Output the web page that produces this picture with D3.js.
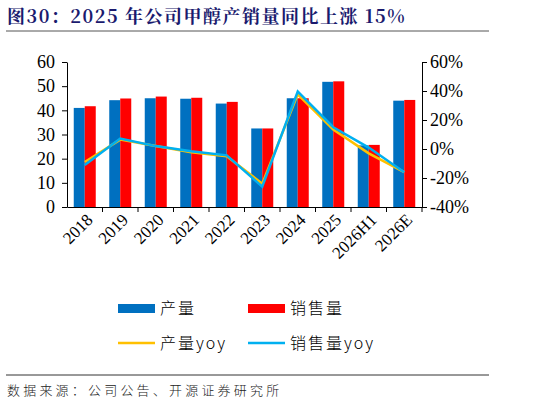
<!DOCTYPE html><html><head><meta charset="utf-8"><script src="https://cdn.jsdelivr.net/npm/d3@7"></script>
<style>body{margin:0;background:#fff}</style></head><body><svg id="c" width="551" height="405"></svg>
<script>
const categories=["2018","2019","2020","2021","2022","2023","2024","2025","2026H1","2026E"];
const production=[41,44.2,45,44.8,42.8,32.5,45,51.8,25.5,44];
const sales=[41.7,44.9,45.7,45.2,43.5,32.5,45,52,25.7,44.3];
const productionYoy=[-9,6.5,2,-2.3,-5,-24,37.7,13.4,-3,-16];
const salesYoy=[-11,7.2,2,-1.6,-4.4,-26,39.6,15,1,-16];
const leftTicks=[0,10,20,30,40,50,60];
const rightTicks=[-40,-20,0,20,40,60];
const svg=d3.select("#c");
const serif="'Liberation Serif','Times New Roman',serif";
const cjk="'Noto Sans CJK SC',sans-serif";
svg.append("text").attr("x",7).attr("y",23).attr("fill","#1a1a6e").attr("font-weight","bold").attr("font-size",18).attr("letter-spacing",1.5).attr("font-family","'Noto Serif CJK SC','Liberation Serif',serif").text("图30：2025 年公司甲醇产销量同比上涨 15%");
svg.append("line").attr("x1",6).attr("x2",489).attr("y1",31).attr("y2",31).attr("stroke","#555").attr("stroke-width",1);
svg.append("line").attr("x1",6).attr("x2",489).attr("y1",375).attr("y2",375).attr("stroke","#333").attr("stroke-width",1);
svg.append("text").attr("x",7).attr("y",395).attr("font-size",13).attr("letter-spacing",3.2).attr("font-family",cjk).attr("font-weight",300).attr("fill","#222").text("数据来源：公司公告、开源证券研究所");
const L=67,R=422,T=62,B=207;
const x=d3.scaleBand().domain(categories).range([L,R]);
const y=d3.scaleLinear().domain([0,60]).range([B,T]);
const y2=d3.scaleLinear().domain([-40,60]).range([B,T]);
const bw=11;
svg.selectAll(".b1").data(categories).join("rect").attr("x",d=>x(d)+x.bandwidth()/2-bw).attr("width",bw).attr("y",(d,i)=>y(production[i])).attr("height",(d,i)=>B-y(production[i])).attr("fill","#0070c0");
svg.selectAll(".b2").data(categories).join("rect").attr("x",d=>x(d)+x.bandwidth()/2).attr("width",bw).attr("y",(d,i)=>y(sales[i])).attr("height",(d,i)=>B-y(sales[i])).attr("fill","#ff0000");
const ln=d3.line().x((d,i)=>x(categories[i])+x.bandwidth()/2).y(d=>y2(d));
svg.append("path").attr("d",ln(productionYoy)).attr("fill","none").attr("stroke","#ffc000").attr("stroke-width",2.5);
svg.append("path").attr("d",ln(salesYoy)).attr("fill","none").attr("stroke","#00b0f0").attr("stroke-width",2.5);
const ax=svg.append("g").attr("transform",`translate(0,${B})`).call(d3.axisBottom(x).tickSize(5).tickSizeOuter(0).tickFormat(""));
ax.selectAll(".tick line").attr("transform",`translate(${x.bandwidth()/2},0)`);
categories.forEach(c=>{svg.append("text").attr("transform",`translate(${x(c)+x.bandwidth()/2+9},${B+14}) rotate(-45)`).attr("text-anchor","end").attr("font-family",serif).attr("font-size",17).text(c);});
const ay=svg.append("g").attr("transform",`translate(${L},0)`).call(d3.axisLeft(y).tickValues(leftTicks).tickSize(5).tickSizeOuter(0));
ay.selectAll("text").attr("font-family",serif).attr("font-size",18).attr("x",-12).attr("fill","#000");
const ay2=svg.append("g").attr("transform",`translate(${R},0)`).call(d3.axisRight(y2).tickValues(rightTicks).tickSize(5).tickSizeOuter(0).tickFormat(d=>d+"%"));
ay2.selectAll("text").attr("font-family",serif).attr("font-size",18).attr("x",8).attr("fill","#000");
svg.selectAll(".domain,.tick line").attr("stroke","#000");
const lg=[["产量","#0070c0",118,308,"r"],["销售量","#ff0000",248,308,"r"],["产量yoy","#ffc000",118,343,"l"],["销售量yoy","#00b0f0",248,343,"l"]];
lg.forEach(([t,c,lx,ly,k])=>{
 if(k=="r")svg.append("rect").attr("x",lx).attr("y",ly-4).attr("width",37).attr("height",9).attr("fill",c);
 else svg.append("line").attr("x1",lx).attr("x2",lx+37).attr("y1",ly).attr("y2",ly).attr("stroke",c).attr("stroke-width",2.5);
 svg.append("text").attr("x",lx+42).attr("y",ly+6).attr("font-family",cjk).attr("font-weight",300).attr("letter-spacing",2).attr("font-size",16).text(t);
});
</script></body></html>
